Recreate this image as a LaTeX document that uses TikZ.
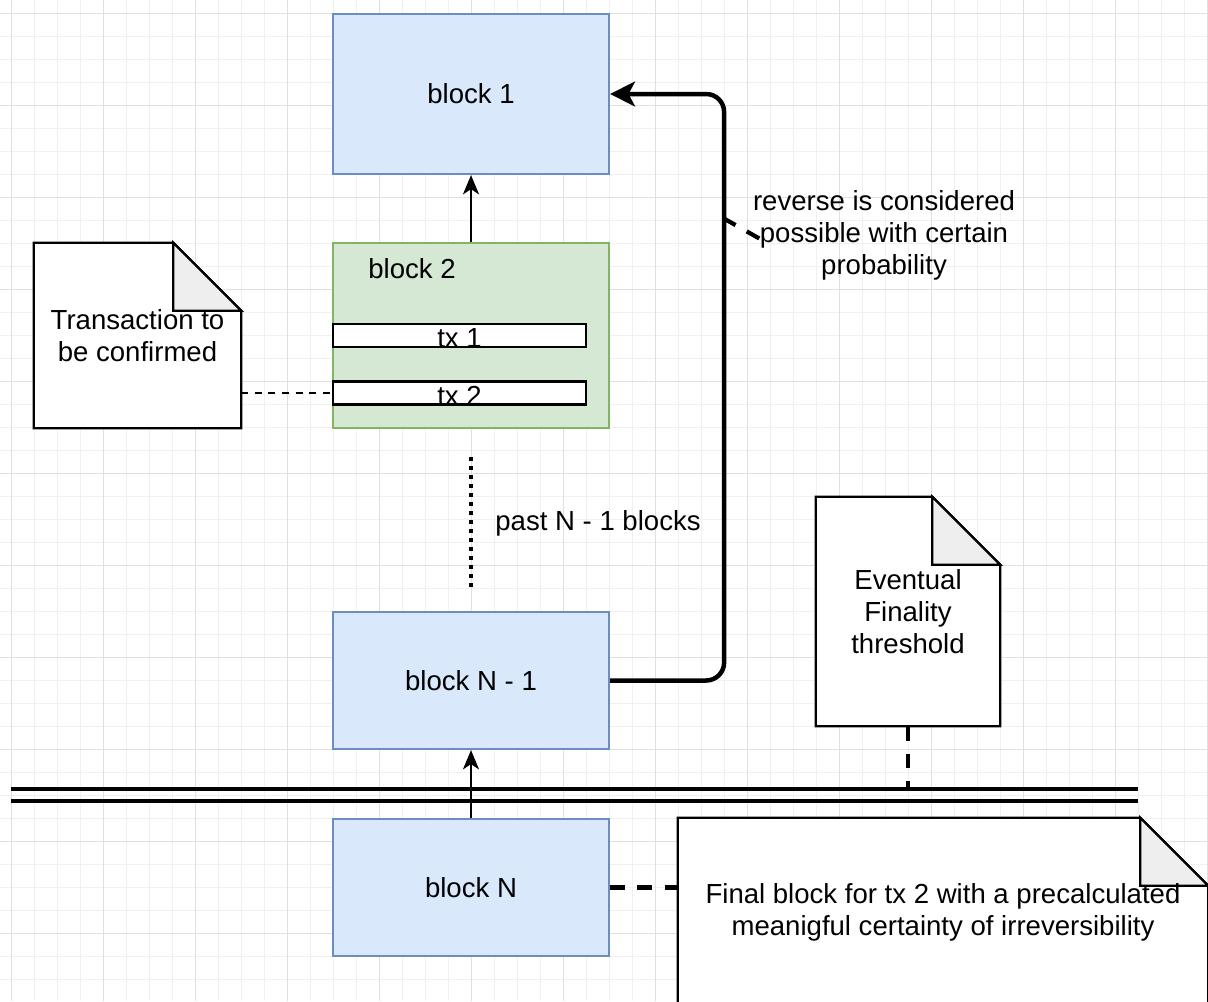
\documentclass[tikz,border=0pt]{standalone}
\usepackage{fontspec}
\setmainfont{Liberation Sans}
\usetikzlibrary{arrows.meta,backgrounds}

\definecolor{blockline}{HTML}{6C8EBF}
\definecolor{blockfill}{HTML}{DAE8FC}
\definecolor{pendline}{HTML}{82B366}
\definecolor{pendfill}{HTML}{D5E8D4}
\definecolor{foldfill}{HTML}{EEEEEE}
\definecolor{gridminor}{HTML}{F0F0F0}
\definecolor{gridmajor}{HTML}{E0E0E0}

\begin{document}
\begin{tikzpicture}[x=0.025cm, y=-0.025cm]
      \tikzstyle{every node}=[font=\fontsize{19.6pt}{22.8pt}\selectfont,
        inner sep=0pt, text=black]
      \def \px {0.025cm}
      \def \fold {68}
      \tikzstyle{block}=[draw=blockline, fill=blockfill, line width=1.6pt,
        minimum width=276*\px]
      \tikzstyle{pending}=[draw=pendline, fill=pendfill, line width=1.6pt,
        minimum width=276*\px, minimum height=185*\px]
      \tikzstyle{tx}=[draw=black, fill=white, line width=1.6pt, text depth=0pt,
        minimum width=253*\px, minimum height=23*\px]
      \tikzstyle{note}=[align=center]
      \tikzstyle{noteline}=[draw=black, line width=1.6pt, line join=miter]
      \tikzstyle{link}=[line width=1.6pt,
        -{Stealth[length=0.48cm, width=0.4cm, inset=0.13cm]}]
      \tikzstyle{biglink}=[line width=3.2pt, rounded corners=0.45cm,
        -{Stealth[length=0.62cm, width=0.62cm, inset=0.16cm]}]
      \tikzstyle{hint}=[line width=1.5pt, dash pattern=on 0.17cm off 0.17cm]
      \tikzstyle{hintbold}=[line width=3pt, dash pattern=on 0.36cm off 0.32cm]
      \tikzstyle{pastdots}=[line width=2.8pt, dash pattern=on 0.1cm off 0.125cm]
      \tikzstyle{rail}=[line width=2.4pt]
      \useasboundingbox (0,0) rectangle (1208,1001);

      % grid paper
      \begin{pgfonlayer}{background}
        \foreach \k in {0,...,52}
          \draw[gridminor, line width=0.7pt] ({11+23*\k},0) -- ({11+23*\k},1001);
        \foreach \k in {0,...,43}
          \draw[gridminor, line width=0.7pt] (0,{13+23*\k}) -- (1208,{13+23*\k});
        \foreach \k in {0,...,13}
          \draw[gridmajor, line width=0.7pt] ({11+92*\k},0) -- ({11+92*\k},1001);
        \foreach \k in {0,...,10}
          \draw[gridmajor, line width=0.7pt] (0,{13+92*\k}) -- (1208,{13+92*\k});
      \end{pgfonlayer}

      % blocks
      \node[block, minimum height=160*\px] (b1) at (471,94) {block 1};
      \node[pending] (b2) at (471,335.5) {};
      \node (b2lbl) at (412,269) {block 2};
      \node[tx] (tx1) at (459.5,335.5) {\raisebox{-0.15cm}{tx 1}};
      \node[tx] (tx2) at (459.5,393) {\raisebox{-0.15cm}{tx 2}};
      \node[block, minimum height=137*\px] (bn1) at (471,680.5) {block N - 1};
      \node[block, minimum height=137*\px] (bn) at (471,887.5) {block N};

      % notes
      \node[note, minimum width=207*\px, minimum height=185*\px] (ntx)
        at (137.5,335.5) {Transaction to\\be confirmed};
      \node[note, minimum width=184*\px, minimum height=229*\px] (nfin)
        at (908,611.5) {Eventual\\Finality\\threshold};
      \node[note, minimum width=530*\px, minimum height=188*\px] (nlast)
        at (943,912) {Final block for tx 2 with a precalculated\\meanigful certainty of irreversibility};
      \begin{pgfonlayer}{background}
        \foreach \nt in {ntx,nfin,nlast} {
          \draw[noteline, fill=white] (\nt.south west) -- (\nt.north west)
            -- ([xshift=-\fold*\px]\nt.north east)
            -- ([yshift=-\fold*\px]\nt.north east)
            -- (\nt.south east) -- cycle;
          \draw[noteline, fill=foldfill] ([xshift=-\fold*\px]\nt.north east)
            -- ([xshift=-\fold*\px, yshift=-\fold*\px]\nt.north east)
            -- ([yshift=-\fold*\px]\nt.north east) -- cycle;
        }
      \end{pgfonlayer}

      % labels
      \node (lpast) at (598,523) {past N - 1 blocks};
      \node[align=center] (lrev) at (884,235)
        {reverse is considered\\possible with certain\\probability};

      % rails
      \coordinate (railtop) at (11,789);
      \coordinate (railtopend) at (1138,789);
      \coordinate (railbot) at (11,801);
      \coordinate (railbotend) at (1138,801);
      \draw[rail] (railtop) -- (railtopend);
      \draw[rail] (railbot) -- (railbotend);

      % connectors
      \coordinate (revfoot) at (723,218);
      \coordinate (revtip) at (762,240);
      \draw[link] (b2) -- (b1);
      \draw[link] (bn) -- (bn1);
      \draw[biglink] (bn1.east) -| ([xshift=114*\px]b1.east) -- (b1.east);
      \draw[hintbold] (revfoot) -- (revtip);
      \draw[pastdots] ([yshift=-28*\px]b2.south) -- ([yshift=24*\px]bn1.north);
      \draw[hint] (tx2.west -| ntx.east) -- (tx2.west);
      \draw[hintbold] (bn.east) -- (bn.east -| nlast.west);
      \draw[hintbold] (nfin.south) -- (nfin.south |- railtop);
\end{tikzpicture}
\end{document}
